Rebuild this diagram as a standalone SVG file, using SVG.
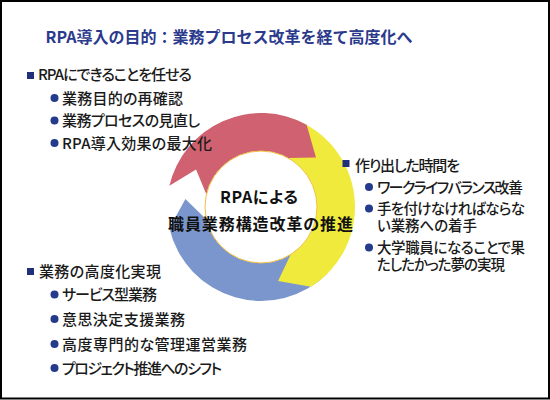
<svg xmlns="http://www.w3.org/2000/svg" width="550" height="400" viewBox="0 0 550 400">
<style>
  text { font-family: "Noto Sans CJK JP", "Noto Sans", sans-serif; font-feature-settings: "palt"; }
  .t { font-size: 15px; font-weight: 500; fill: #1a1a1a; }
  .tw { font-size: 14.5px; font-weight: 500; fill: #1a1a1a; }
  .title { font-size: 16px; font-weight: bold; fill: #2B3A8C; font-feature-settings: normal; }
  .ctr { font-size: 16px; font-weight: bold; fill: #111; }
  .sq { fill: #1F2F7A; }
  .dot { fill: #243A8A; }
  .red { fill: #CF6170; }
  .yel { fill: #F0EA3C; }
  .blu { fill: #7A96CC; }
</style>
<rect x="1" y="1" width="548" height="397.5" fill="#fff" stroke="#000" stroke-width="2"/>

<g id="title">
  <text class="title" x="45.5" y="43" textLength="367">RPA導入の目的：業務プロセス改革を経て高度化へ</text>
</g>

<g id="cycle-arrows">
  <path id="arrow-blue" class="blu" d="M327.47,273.47 A94,94 0 0 1 169.41,228.15 L185.42,199.06 L206.43,219.60 A56,56 0 0 0 300.60,246.60 Z"/>
  <path id="arrow-yellow" class="yel" d="M293.15,118.67 A94,94 0 0 1 310.81,286.71 L278.10,281.05 L290.67,254.49 A56,56 0 0 0 280.15,154.38 Z"/>
  <path id="arrow-red" class="red" d="M169.41,185.85 A94,94 0 0 1 306.57,124.79 L315.99,157.48 L288.15,158.02 A56,56 0 0 0 206.43,194.40 L196.05,169.50 Z"/>
</g>

<g id="center">
  <circle cx="261" cy="207" r="56" fill="#fff" stroke="#F2C040" stroke-width="1"/>
  <text class="ctr" x="220" y="202.5" textLength="78">RPAによる</text>
  <text class="ctr" x="168" y="229.5" textLength="185">職員業務構造改革の推進</text>
</g>

<g id="list-rpa">
  <rect class="sq" x="27" y="72" width="7" height="7"/>
  <text class="t" x="38" y="80" textLength="154">RPAにできることを任せる</text>
  <circle class="dot" cx="54.5" cy="98" r="4"/>
  <text class="t" x="62" y="103.5" textLength="121">業務目的の再確認</text>
  <circle class="dot" cx="54.5" cy="120.5" r="4"/>
  <text class="t" x="62" y="126" textLength="138">業務プロセスの見直し</text>
  <circle class="dot" cx="54.5" cy="143" r="4"/>
  <text class="t" x="62" y="148.5" textLength="150">RPA導入効果の最大化</text>
</g>

<g id="list-time">
  <rect class="sq" x="342.5" y="160" width="7" height="7"/>
  <text class="t" x="355" y="170.5" textLength="105">作り出した時間を</text>
  <circle class="dot" cx="369" cy="187" r="4"/>
  <text class="t" x="377" y="192.5" textLength="146">ワークライフバランス改善</text>
  <circle class="dot" cx="369" cy="208.5" r="4"/>
  <text class="tw"><tspan x="377" y="213.5" textLength="148">手を付けなければならな</tspan><tspan x="377" y="231" textLength="100">い業務への着手</tspan></text>
  <circle class="dot" cx="369" cy="247.5" r="4"/>
  <text class="tw"><tspan x="377" y="252.5" textLength="148">大学職員になることで果</tspan><tspan x="377" y="270" textLength="128">たしたかった夢の実現</tspan></text>
</g>

<g id="list-advance">
  <rect class="sq" x="27" y="268" width="7" height="7"/>
  <text class="t" x="39" y="276.5" textLength="122">業務の高度化実現</text>
  <circle class="dot" cx="54.5" cy="294.5" r="4"/>
  <text class="t" x="62" y="300" textLength="95">サービス型業務</text>
  <circle class="dot" cx="54.5" cy="319" r="4"/>
  <text class="t" x="62" y="324.5" textLength="123">意思決定支援業務</text>
  <circle class="dot" cx="54.5" cy="344" r="4"/>
  <text class="t" x="62" y="349.5" textLength="185">高度専門的な管理運営業務</text>
  <circle class="dot" cx="54.5" cy="368" r="4"/>
  <text class="t" x="62" y="373.5" textLength="160">プロジェクト推進へのシフト</text>
</g>
</svg>
